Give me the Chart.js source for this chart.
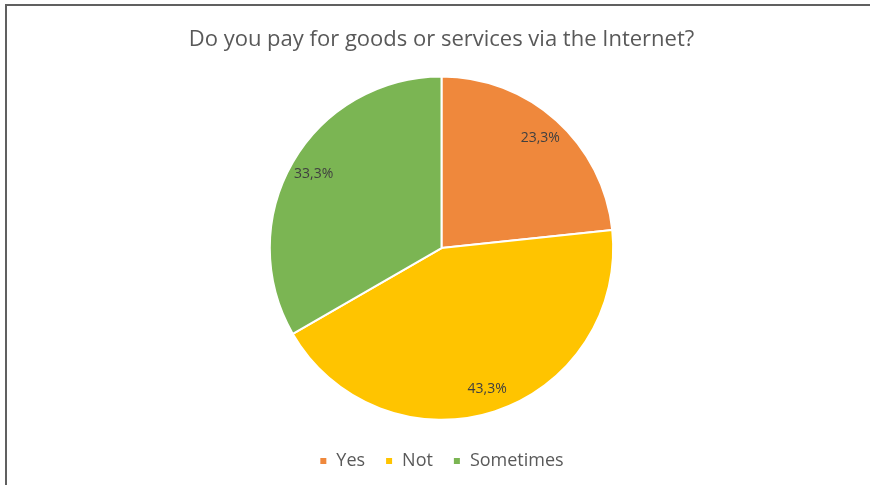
<!DOCTYPE html>
<html>
<head>
<meta charset="utf-8">
<title>Internet payments</title>
<script src="https://cdn.jsdelivr.net/npm/chart.js@4"></script>
<style>
    html, body { margin: 0; padding: 0; background: #fff; }
    #wrap {
        position: absolute; left: 0; top: 0;
        width: 870px; height: 485px;
    }
    #frame {
        position: absolute; left: 5px; top: 4px;
        width: 870px; height: 490px;
        border-top: 2px solid #606060;
        border-left: 2px solid #606060;
        pointer-events: none;
    }
    canvas { position: absolute; left: 0; top: 0; }
</style>
</head>
<body>
<div id="wrap">
    <canvas id="payChart" width="870" height="485"></canvas>
    <div id="frame"></div>
</div>
<script>
const answers = ["Yes", "Not", "Sometimes"];
const shares = [23.3, 43.3, 33.3];
const sliceColors = ["#EF883C", "#FFC400", "#7BB553"];

// percentage label inside each slice, comma as decimal separator
const sliceLabels = {
    id: "sliceLabels",
    afterDatasetsDraw(chart) {
        const ctx = chart.ctx;
        const meta = chart.getDatasetMeta(0);
        ctx.save();
        ctx.font = "14px 'Open Sans'";
        ctx.fillStyle = "#404040";
        ctx.textAlign = "center";
        ctx.textBaseline = "middle";
        meta.data.forEach((arc, i) => {
            const p = arc.getProps(["x", "y", "startAngle", "endAngle", "outerRadius"], true);
            const mid = (p.startAngle + p.endAngle) / 2;
            const r = p.outerRadius * 0.86;
            const text = shares[i].toFixed(1).replace(".", ",") + "%";
            ctx.fillText(text, p.x + Math.cos(mid) * r, p.y + Math.sin(mid) * r);
        });
        ctx.restore();
    }
};

new Chart(document.getElementById("payChart").getContext("2d"), {
    type: "pie",
    data: {
        labels: answers,
        datasets: [{
            data: shares,
            backgroundColor: sliceColors,
            borderColor: "#ffffff",
            borderWidth: 2
        }]
    },
    options: {
        responsive: false,
        animation: false,
        layout: { padding: { top: 0, bottom: 5, left: 13, right: 0 } },
        plugins: {
            title: {
                display: true,
                text: "Do you pay for goods or services via the Internet?",
                color: "#595959",
                font: { family: "Open Sans", size: 22, weight: "normal" },
                padding: { top: 27, bottom: 22 }
            },
            legend: {
                position: "bottom",
                // empty legend title only adds a gap above the items
                title: {
                    display: true,
                    text: "",
                    font: { size: 1 },
                    padding: { top: 10, bottom: 0 }
                },
                labels: {
                    boxWidth: 8,
                    boxHeight: 8,
                    padding: 20,
                    color: "#595959",
                    font: { family: "Open Sans", size: 18 }
                }
            },
            tooltip: { enabled: false }
        }
    },
    plugins: [sliceLabels]
});
</script>
</body>
</html>
